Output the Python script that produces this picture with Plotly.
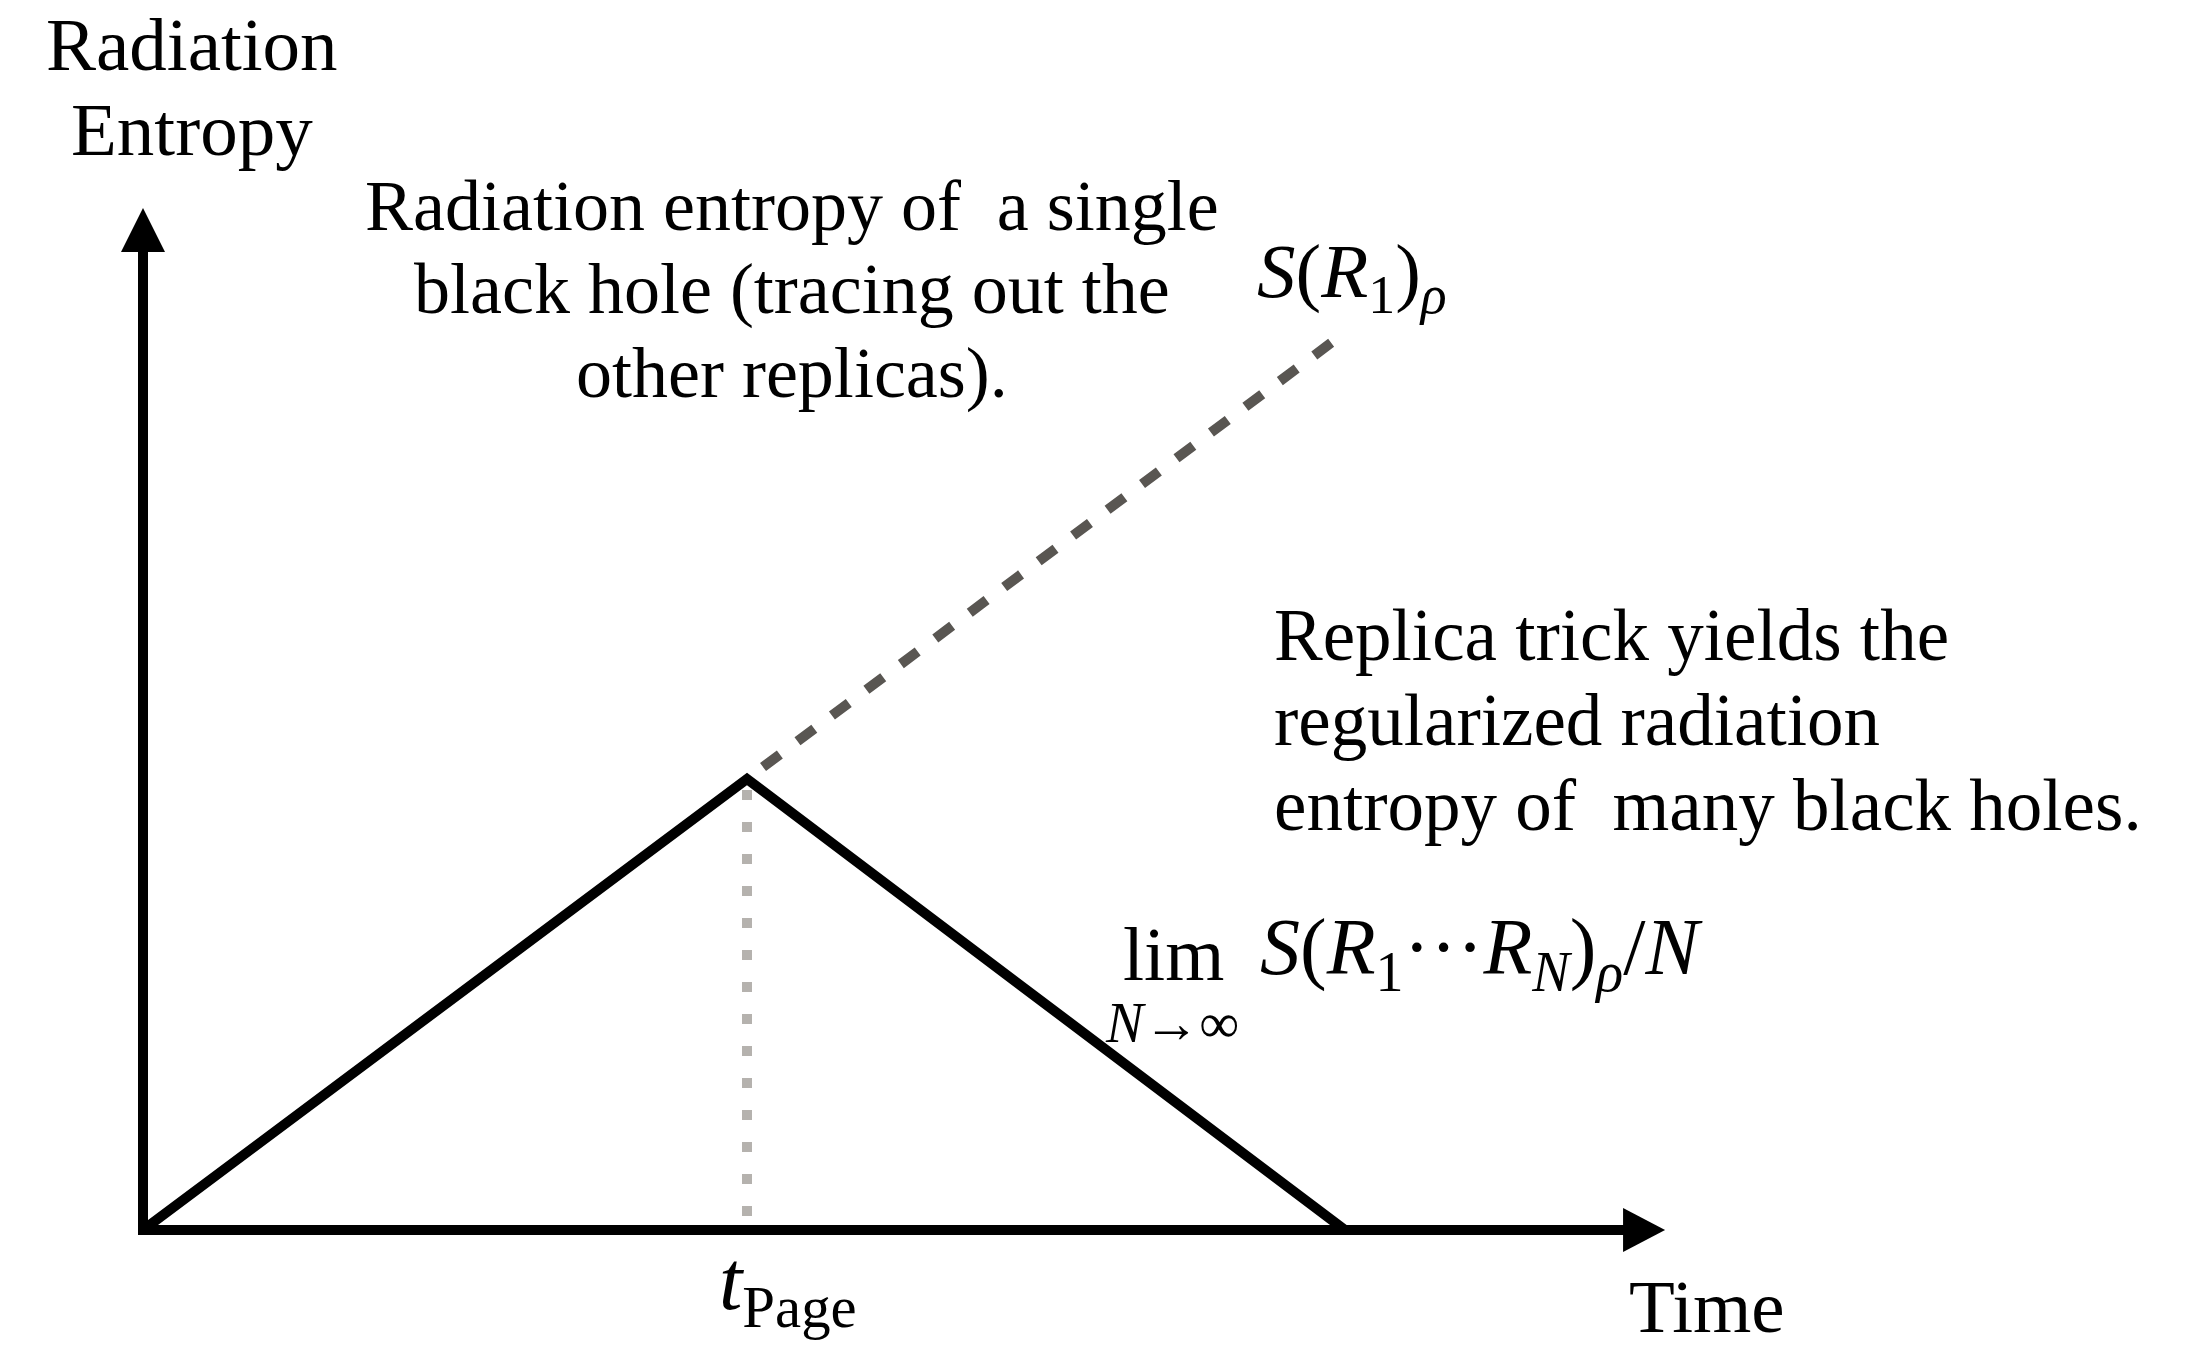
import plotly.graph_objects as go

# ---------------- data (time in units of t_Page, entropy in units of its Page value)
time_pts = [0.0, 1.0, 1.99]
regularized_entropy = [0.0, 1.0, 0.0]
single_time = [1.0, 1.98]
single_entropy = [1.0, 1.98]
page_time = [1.0, 1.0]
page_level = [1.0, 0.0]
axis_time_max = 2.52
axis_entropy_max = 2.266

# ---------------- canvas / scale
W, H = 2198, 1349
X0_PX, Y0_PX = 143, 1230      # pixel position of the origin
SX, SY = 604, 451             # pixels per data unit
x_range = [-X0_PX / SX, (W - X0_PX) / SX]
y_range = [-(H - Y0_PX) / SY, Y0_PX / SY]

FONT = "Liberation Serif"

fig = go.Figure()

fig.add_trace(go.Scatter(
    x=page_time, y=page_level, mode="lines",
    line=dict(color="#b5b2ae", width=10, dash="0px,11px,10px,11px"),
    hoverinfo="skip"))
fig.add_trace(go.Scatter(
    x=single_time, y=single_entropy, mode="lines",
    line=dict(color="#595652", width=10, dash="0px,20px,21px,2px"),
    hoverinfo="skip"))
fig.add_trace(go.Scatter(
    x=time_pts, y=regularized_entropy, mode="lines",
    line=dict(color="black", width=10),
    hoverinfo="skip"))

shapes = [
    # axes lines
    dict(type="line", xref="x", yref="y", x0=-5 / SX, y0=0, x1=axis_time_max - 40 / SX, y1=0,
         line=dict(color="black", width=10)),
    dict(type="line", xref="x", yref="y", x0=0, y0=-5 / SY, x1=0, y1=axis_entropy_max - 42 / SY,
         line=dict(color="black", width=10)),
    # arrow heads
    dict(type="path", xref="x", yref="y", xsizemode="pixel", ysizemode="pixel",
         xanchor=0, yanchor=axis_entropy_max, path="M-22,-44 L22,-44 L0,0 Z",
         fillcolor="black", line=dict(width=0)),
    dict(type="path", xref="x", yref="y", xsizemode="pixel", ysizemode="pixel",
         xanchor=axis_time_max, yanchor=0, path="M-42,22 L-42,-22 L0,0 Z",
         fillcolor="black", line=dict(width=0)),
]


def ann(text, x_px, baseline_px, size, xanchor="left"):
    yc = baseline_px - 0.3375 * size
    return dict(text=text, x=x_px / W, y=1 - yc / H, xref="paper", yref="paper",
                xanchor=xanchor, yanchor="middle", showarrow=False, borderpad=0,
                font=dict(family=FONT, size=size, color="black"))


annotations = [
    ann("Radiation", 192, 70, 75, "center"),
    ann("Entropy", 192, 155, 75, "center"),
    ann("Radiation entropy of  a single", 792, 230, 72, "center"),
    ann("black hole (tracing out the", 792, 313, 72, "center"),
    ann("other replicas).", 792, 397, 72, "center"),
    ann("<i>S</i>(<i>R</i><sub>1</sub>)<sub><i>ρ</i></sub>", 1256, 302, 77),
    ann("Replica trick yields the", 1273, 660, 73),
    ann("regularized radiation", 1273, 745, 73),
    ann("entropy of  many black holes.", 1273, 830, 73),
    ann("lim", 1122, 980, 76),
    ann("<i>N</i>→∞", 1172, 1042, 56, "center"),
    ann("<i>S</i>(<i>R</i><sub>1</sub>···<i>R</i><sub><i>N</i></sub>)<sub><i>ρ</i></sub>/<i>N</i>",
        1259, 980, 80),
    ann("<i>t</i><sub>Page</sub>", 718, 1315, 84),
    ann("Time", 1628, 1332, 75),
]

fig.update_layout(
    width=W, height=H,
    margin=dict(l=0, r=0, t=0, b=0),
    paper_bgcolor="white", plot_bgcolor="white",
    showlegend=False,
    xaxis=dict(range=x_range, visible=False, fixedrange=True),
    yaxis=dict(range=y_range, visible=False, fixedrange=True),
    shapes=shapes,
    annotations=annotations,
)

fig.write_html("out.html", config={"displayModeBar": False},
               post_script="document.body.style.margin='0';document.body.style.overflow='hidden';")
